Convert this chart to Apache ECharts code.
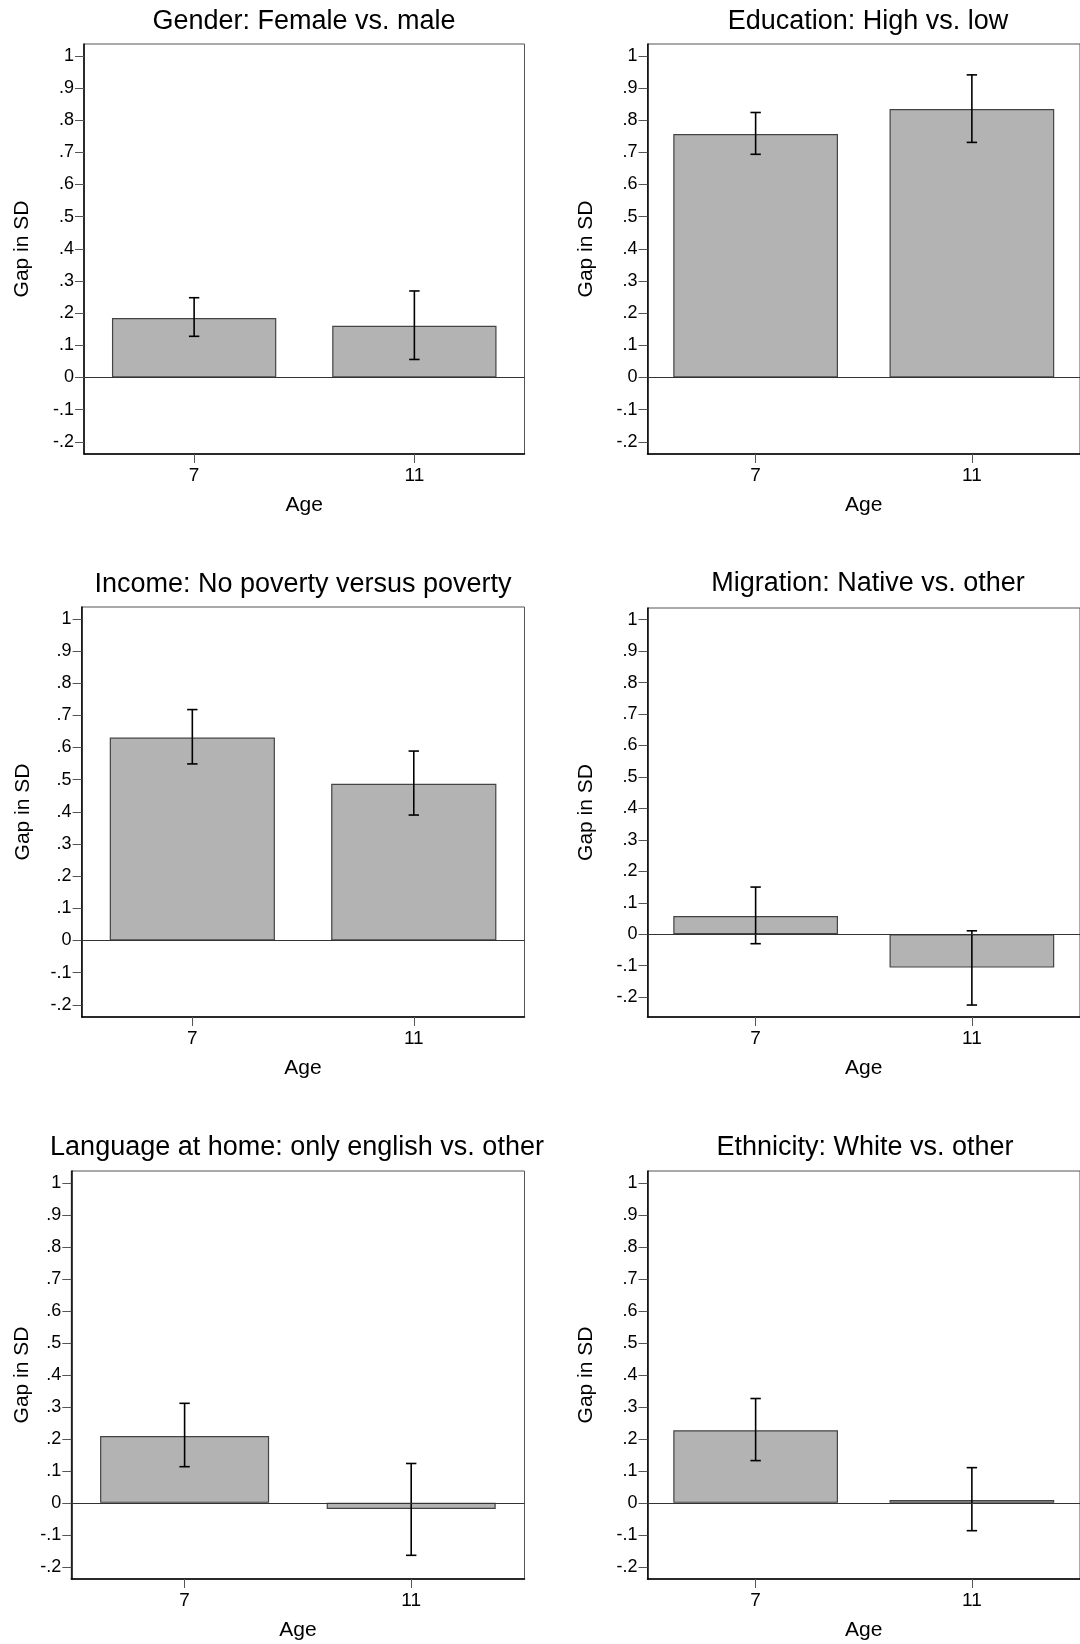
<!DOCTYPE html>
<html>
<head>
<meta charset="utf-8">
<script src="https://cdn.jsdelivr.net/npm/echarts@6/dist/echarts.min.js"></script>
<style>
  html, body { margin: 0; padding: 0; background: #fff; }
  #chart { width: 1080px; height: 1644px; }
</style>
</head>
<body>
<div id="chart"></div>
<script>
// categories (age at test)
var ages = ['7', '11'];

// panel titles, row by row
var panelTitles = [
  'Gender: Female vs. male',
  'Education: High vs. low',
  'Income: No poverty versus poverty',
  'Migration: Native vs. other',
  'Language at home: only english vs. other',
  'Ethnicity: White vs. other'
];

// gap in SD, one pair (age 7, age 11) per panel
var gapValues = [
  [0.185, 0.161],
  [0.757, 0.835],
  [0.631, 0.487],
  [0.058, -0.106],
  [0.209, -0.019],
  [0.227, 0.009]
];
// confidence interval ends
var ciLower = [
  [0.128, 0.056],
  [0.694, 0.731],
  [0.549, 0.390],
  [-0.030, -0.225],
  [0.113, -0.164],
  [0.132, -0.087]
];
var ciUpper = [
  [0.248, 0.269],
  [0.824, 0.941],
  [0.718, 0.589],
  [0.150, 0.011],
  [0.311, 0.123],
  [0.326, 0.110]
];

// y tick labels
var yTicks = [-0.2, -0.1, 0, 0.1, 0.2, 0.3, 0.4, 0.5, 0.6, 0.7, 0.8, 0.9, 1];

// panel boxes in px (right column runs past the page edge, as in the figure)
var panels = [
  { left: 84,    top: 44,   width: 440.5, height: 410, yMin: -0.238, gap: 51, tx: 304, tt: 8 },
  { left: 647.5, top: 44,   width: 441.6, height: 410, yMin: -0.238, gap: 51, tx: 868, tt: 8 },
  { left: 81.6,  top: 607,  width: 442.9, height: 410, yMin: -0.238, gap: 48, tx: 303, tt: 571 },
  { left: 647.5, top: 608,  width: 441.6, height: 409, yMin: -0.263, gap: 51, tx: 868, tt: 570 },
  { left: 71.3,  top: 1171, width: 453.2, height: 408, yMin: -0.238, gap: 39, tx: 297, tt: 1134 },
  { left: 647.5, top: 1171, width: 441.6, height: 408, yMin: -0.238, gap: 51, tx: 865, tt: 1134 }
];
var xMax = 2;
var yMax = 1.037;
var font = 'Liberation Sans, Arial, Helvetica, sans-serif';

// stata style tick labels: .9, -.1, 0, 1
function fmtY(v) {
  var r = Math.round(v * 10) / 10;
  if (r === 0) return '0';
  return String(r).replace('0.', '.');
}

function renderErrorBar(params, api) {
  var x = api.value(0);
  var lo = api.coord([x, api.value(1)]);
  var hi = api.coord([x, api.value(2)]);
  var cap = 5.2;
  var style = { stroke: '#000', lineWidth: 1.6 };
  return {
    type: 'group',
    children: [
      { type: 'line', shape: { x1: hi[0], y1: hi[1], x2: lo[0], y2: lo[1] }, style: style },
      { type: 'line', shape: { x1: hi[0] - cap, y1: hi[1], x2: hi[0] + cap, y2: hi[1] }, style: style },
      { type: 'line', shape: { x1: lo[0] - cap, y1: lo[1], x2: lo[0] + cap, y2: lo[1] }, style: style }
    ]
  };
}

var catPos = ages.map(function (a, i) { return i + 0.5; });

var title = [], grid = [], xAxis = [], yAxis = [], series = [];

panels.forEach(function (p, k) {
  title.push({
    text: panelTitles[k],
    left: p.tx,
    top: p.tt,
    padding: 0,
    textAlign: 'center',
    textVerticalAlign: 'top',
    textStyle: { fontFamily: font, fontSize: 27, fontWeight: 'normal', color: '#000' }
  });
  grid.push({
    left: p.left, top: p.top, width: p.width, height: p.height,
    show: true, borderColor: '#555', borderWidth: 1, backgroundColor: '#fff'
  });
  xAxis.push({
    type: 'value', gridIndex: k, min: 0, max: xMax,
    name: 'Age', nameLocation: 'middle', nameGap: 41,
    nameTextStyle: { fontFamily: font, fontSize: 21, color: '#000' },
    axisLine: { show: true, onZero: false, lineStyle: { color: '#000', width: 1.5 } },
    axisTick: { show: true, length: 9, customValues: catPos, lineStyle: { color: '#555', width: 1 } },
    axisLabel: {
      customValues: catPos, margin: 12,
      fontFamily: font, fontSize: 19, color: '#000',
      formatter: function (v) { return ages[Math.round(v - 0.5)]; }
    },
    splitLine: { show: false }
  });
  yAxis.push({
    type: 'value', gridIndex: k, min: p.yMin, max: yMax,
    name: 'Gap in SD', nameLocation: 'middle', nameGap: p.gap,
    nameTextStyle: { fontFamily: font, fontSize: 21, color: '#000' },
    axisLine: { show: true, onZero: false, lineStyle: { color: '#000', width: 1.5 } },
    axisTick: { show: true, length: 9, customValues: yTicks, lineStyle: { color: '#555', width: 1 } },
    axisLabel: {
      customValues: yTicks, margin: 10,
      fontFamily: font, fontSize: 18, color: '#000',
      formatter: fmtY
    },
    splitLine: { show: false }
  });

  var unit = p.width / xMax;
  series.push({
    type: 'bar', xAxisIndex: k, yAxisIndex: k,
    barWidth: 0.746 * unit,
    z: 2,
    itemStyle: { color: '#b3b3b3', borderColor: '#444', borderWidth: 1.2 },
    data: gapValues[k].map(function (v, i) { return [catPos[i], v]; }),
    markLine: {
      silent: true, symbol: ['none', 'none'], label: { show: false },
      lineStyle: { color: '#333', width: 1, type: 'solid' },
      data: [{ yAxis: 0 }]
    }
  });
  series.push({
    type: 'custom', xAxisIndex: k, yAxisIndex: k, z: 3,
    renderItem: renderErrorBar,
    encode: { x: 0, y: [1, 2] },
    data: ciLower[k].map(function (lo, i) { return [catPos[i], lo, ciUpper[k][i]]; })
  });
});

var chart = echarts.init(document.getElementById('chart'), null, { renderer: 'canvas' });
chart.setOption({
  animation: false,
  backgroundColor: '#fff',
  textStyle: { fontFamily: font },
  title: title,
  grid: grid,
  xAxis: xAxis,
  yAxis: yAxis,
  series: series
});
</script>
</body>
</html>
